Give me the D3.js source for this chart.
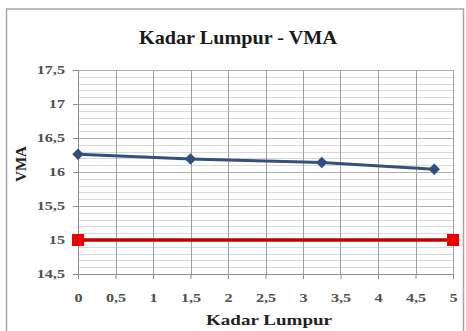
<!DOCTYPE html>
<html><head><meta charset="utf-8">
<script src="https://cdn.jsdelivr.net/npm/d3@7"></script>
<style>
html,body{margin:0;padding:0;background:#fff;}
svg{display:block;}
text{font-family:"Liberation Serif","Times New Roman",serif;}
</style></head>
<body>
<script>
const title = "Kadar Lumpur - VMA";
const xTitle = "Kadar Lumpur";
const yTitle = "VMA";
const vmaX = [0, 1.5, 3.25, 4.75];
const vmaY = [16.26, 16.19, 16.14, 16.04];
const specX = [0, 5];
const specY = [15, 15];
const xTicks = [0, 0.5, 1, 1.5, 2, 2.5, 3, 3.5, 4, 4.5, 5];
const yTicks = [14.5, 15, 15.5, 16, 16.5, 17, 17.5];
const yMinor = d3.range(145, 176, 1).map(v => v / 10);
const fmt = d => String(d).replace(".", ",");

const W = 466, H = 331;
const svg = d3.select("body").append("svg").attr("width", W).attr("height", H);

// chart border
svg.append("rect").attr("x", 6.5).attr("y", 9).attr("width", 457).attr("height", 340)
  .attr("fill", "#fff").attr("stroke", "#a6a6a6").attr("stroke-width", 1.5);

const x = d3.scaleLinear().domain([0, 5]).range([78, 453]);
const y = d3.scaleLinear().domain([14.5, 17.5]).range([274, 70]);

// minor horizontal gridlines
svg.append("g").selectAll("line").data(yMinor).join("line")
  .attr("x1", x(0)).attr("x2", x(5))
  .attr("y1", d => Math.round(y(d)) + 0.5).attr("y2", d => Math.round(y(d)) + 0.5)
  .attr("stroke", "#d8d8d8").attr("stroke-width", 1);
// major horizontal gridlines
svg.append("g").selectAll("line").data(yTicks).join("line")
  .attr("x1", x(0)).attr("x2", x(5))
  .attr("y1", d => Math.round(y(d)) + 0.5).attr("y2", d => Math.round(y(d)) + 0.5)
  .attr("stroke", "#b0b0b0").attr("stroke-width", 1);
// vertical gridlines
svg.append("g").selectAll("line").data(xTicks).join("line")
  .attr("x1", d => Math.round(x(d)) + 0.5).attr("x2", d => Math.round(x(d)) + 0.5)
  .attr("y1", y(17.5)).attr("y2", y(14.5))
  .attr("stroke", "#a0a0a0").attr("stroke-width", 1);

// axes
const xAxis = svg.append("g").attr("transform", `translate(0,${y(14.5)})`)
  .call(d3.axisBottom(x).tickValues(xTicks).tickFormat(fmt).tickSize(5).tickPadding(14));
const yAxis = svg.append("g").attr("transform", `translate(${x(0)},0)`)
  .call(d3.axisLeft(y).tickValues(yTicks).tickFormat(fmt).tickSize(5).tickPadding(13));
[xAxis, yAxis].forEach(g => {
  g.select(".domain").attr("stroke", "#8c8c8c");
  g.selectAll(".tick line").attr("stroke", "#8c8c8c");
  g.selectAll(".tick text").attr("font-size", 12).attr("font-weight", "bold")
    .attr("fill", "#505050").attr("font-family", "Liberation Serif, serif");
});
xAxis.selectAll(".tick text").attr("transform", "scale(1.35,1)");
yAxis.selectAll(".tick text").attr("transform", "scale(1.35,1)").attr("x", -13 / 1.35);

// spec line (red)
const line = d3.line().x(d => x(d[0])).y(d => y(d[1]));
svg.append("path").datum(specX.map((v, i) => [v, specY[i]]))
  .attr("d", line).attr("fill", "none").attr("stroke", "#c00000").attr("stroke-width", 3.5);
svg.append("g").selectAll("rect").data(specX.map((v, i) => [v, specY[i]])).join("rect")
  .attr("x", d => x(d[0]) - 6).attr("y", d => y(d[1]) - 6).attr("width", 12).attr("height", 12)
  .attr("fill", "#ee0000");

// VMA line (blue)
const vmaData = vmaX.map((v, i) => [v, vmaY[i]]);
svg.append("path").datum(vmaData).attr("d", line).attr("fill", "none")
  .attr("stroke", "#34507e").attr("stroke-width", 3);
svg.append("g").selectAll("path").data(vmaData).join("path")
  .attr("d", d3.symbol(d3.symbolDiamond2 || d3.symbolDiamond, 85))
  .attr("transform", d => `translate(${x(d[0])},${y(d[1])})`)
  .attr("fill", "#2f4d80");

// titles
svg.append("text").attr("x", 238).attr("y", 44).attr("text-anchor", "middle")
  .attr("font-size", 19).attr("font-weight", "bold").attr("fill", "#1a1a1a")
  .attr("textLength", 198).attr("lengthAdjust", "spacingAndGlyphs").text(title);
svg.append("text").attr("x", 269).attr("y", 325).attr("text-anchor", "middle")
  .attr("font-size", 15).attr("font-weight", "bold").attr("fill", "#222")
  .attr("textLength", 126).attr("lengthAdjust", "spacingAndGlyphs").text(xTitle);
svg.append("text").attr("transform", "translate(26,164) rotate(-90)").attr("text-anchor", "middle")
  .attr("font-size", 15).attr("font-weight", "bold").attr("fill", "#222").text(yTitle);
</script>
</body></html>
